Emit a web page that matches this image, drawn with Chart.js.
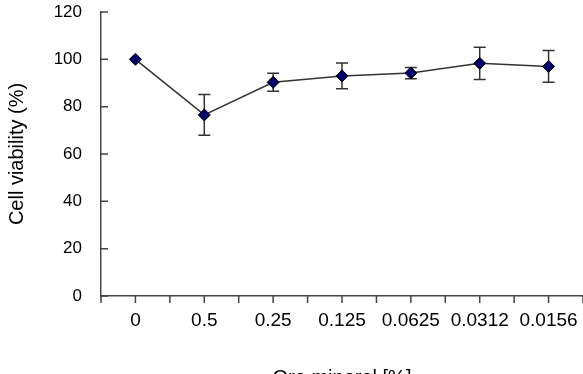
<!DOCTYPE html>
<html>
<head>
<meta charset="utf-8">
<title>Cell viability</title>
<script src="https://cdn.jsdelivr.net/npm/chart.js@4"></script>
<style>
  html, body { margin: 0; padding: 0; background: #fff; }
  canvas { display: block; }
</style>
</head>
<body>
<canvas id="chart" width="583" height="374"></canvas>
<script>
// concentrations of ore mineral (%)
const concentrations = ['0', '0.5', '0.25', '0.125', '0.0625', '0.0312', '0.0156'];
// mean viability (%) and standard deviation
const viability = [100, 76.5, 90.3, 93.0, 94.2, 98.3, 97.0];
const viabilitySd = [0, 8.6, 3.8, 5.4, 2.4, 6.8, 6.7];
const yTicks = [0, 20, 40, 60, 80, 100, 120];

const AXIS = '#444';
const FONT = "'Liberation Sans', Arial, sans-serif";

// error bars, drawn under the markers
const errorBars = {
  id: 'errorBars',
  beforeDatasetsDraw(chart) {
    const { ctx, scales: { x, y } } = chart;
    ctx.save();
    ctx.strokeStyle = '#333';
    ctx.lineWidth = 1.5;
    viability.forEach((v, i) => {
      const sd = viabilitySd[i];
      if (!sd) return;
      const px = x.getPixelForValue(i);
      const top = y.getPixelForValue(v + sd);
      const bot = y.getPixelForValue(v - sd);
      ctx.beginPath();
      ctx.moveTo(px, top); ctx.lineTo(px, bot);
      ctx.moveTo(px - 6, top); ctx.lineTo(px + 6, top);
      ctx.moveTo(px - 6, bot); ctx.lineTo(px + 6, bot);
      ctx.stroke();
    });
    ctx.restore();
  }
};

// tick marks: y inward, x outward at centers and boundaries
const tickMarks = {
  id: 'tickMarks',
  afterDraw(chart) {
    const { ctx, chartArea: area, scales: { x, y } } = chart;
    ctx.save();
    ctx.strokeStyle = AXIS;
    ctx.lineWidth = 1.5;
    ctx.beginPath();
    yTicks.forEach(t => {
      const py = y.getPixelForValue(t);
      ctx.moveTo(area.left, py); ctx.lineTo(area.left + 7, py);
    });
    const w = (area.right - area.left) / concentrations.length;
    for (let k = 0; k <= concentrations.length; k++) {
      const bx = area.left + k * w;
      ctx.moveTo(bx, area.bottom); ctx.lineTo(bx, area.bottom + 7);
    }
    concentrations.forEach((c, i) => {
      const px = x.getPixelForValue(i);
      ctx.moveTo(px, area.bottom); ctx.lineTo(px, area.bottom + 7);
    });
    ctx.stroke();
    ctx.restore();
  }
};

new Chart(document.getElementById('chart'), {
  type: 'line',
  data: {
    labels: concentrations,
    datasets: [{
      data: viability,
      borderColor: '#333',
      borderWidth: 1.5,
      pointStyle: 'rectRot',
      pointRadius: 6,
      pointBackgroundColor: '#000066',
      pointBorderColor: '#000',
      pointBorderWidth: 1,
      tension: 0,
      clip: false
    }]
  },
  options: {
    responsive: false,
    animation: false,
    devicePixelRatio: 1,
    layout: { autoPadding: false, padding: { top: 12, right: 0, left: 0, bottom: 0 } },
    plugins: { legend: { display: false }, tooltip: { enabled: false } },
    scales: {
      x: {
        offset: true,
        grid: { display: false, drawTicks: false },
        border: { display: true, color: AXIS, width: 1.5 },
        ticks: { color: '#000', padding: 13, maxRotation: 0, autoSkip: false, font: { family: FONT, size: 19 } },
        title: {
          display: true, text: 'Ore mineral [%]', color: '#000',
          font: { family: FONT, size: 20 }, padding: { top: 0, bottom: -16 }
        },
        afterFit(scale) {
          scale.height = 78;
          scale.paddingLeft = 0; scale.paddingRight = 0;
        }
      },
      y: {
        min: 0, max: 120,
        grid: { display: false, drawTicks: false },
        border: { display: true, color: AXIS, width: 1.5 },
        ticks: { stepSize: 20, color: '#000', padding: 19, font: { family: FONT, size: 17 } },
        title: {
          display: true, text: 'Cell viability (%)', color: '#000',
          font: { family: FONT, size: 20 }, padding: { top: 5, bottom: 0 }
        },
        afterFit(scale) {
          scale.width = 101;
          scale.paddingTop = 0; scale.paddingBottom = 0;
        }
      }
    }
  },
  plugins: [errorBars, tickMarks]
});
</script>
</body>
</html>
